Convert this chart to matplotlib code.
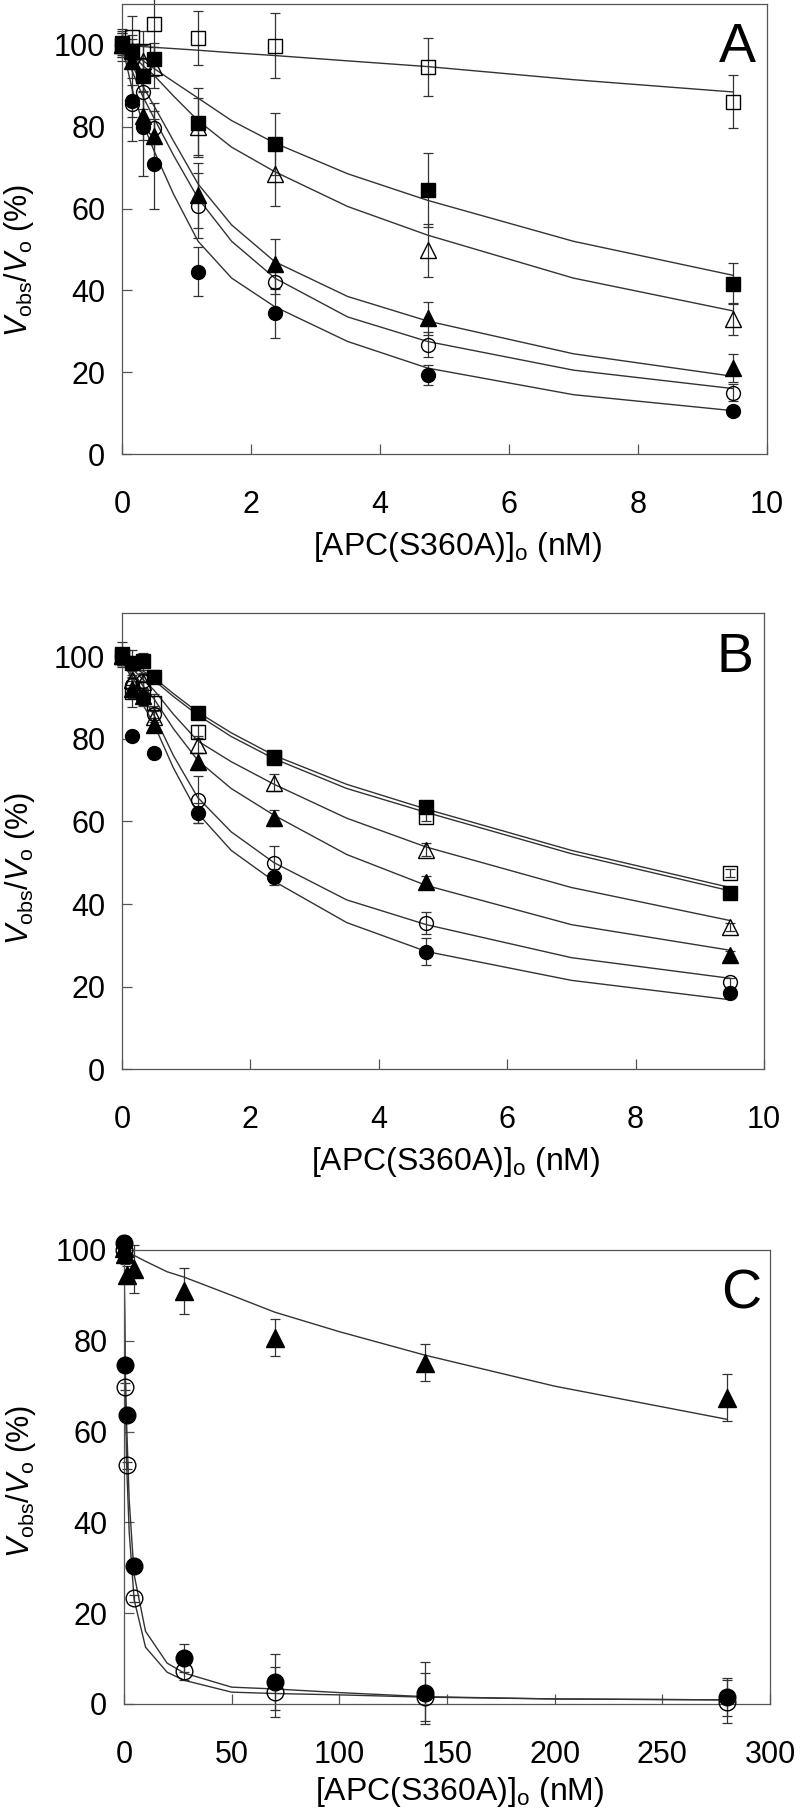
import numpy as np
import matplotlib.pyplot as plt

plt.rcParams['font.family'] = ['Liberation Sans', 'DejaVu Sans']
plt.rcParams['mathtext.fontset'] = 'custom'
plt.rcParams['mathtext.rm'] = 'Liberation Sans'
plt.rcParams['mathtext.it'] = 'Liberation Sans:italic'

# ---- panel A / B concentrations (nM)
x_ab = [0, 0.16, 0.32, 0.5, 1.18, 2.37, 4.74, 9.47]
fit_x_ab = [0, 0.16, 0.32, 0.5, 0.8, 1.18, 1.7, 2.37, 3.5, 4.74, 7, 9.47]

# panel A data
a_sq_open = [100, 102, 98.5, 105, 101.7, 99.8, 94.6, 86.1]
a_sq_open_err = [4, 5, 5, 7, 6.5, 8, 7, 6.5]
a_sq_fill = [100.5, 98.5, 92.5, 96.5, 81, 75.8, 64.6, 41.6]
a_sq_fill_err = [3, 3, 4, 4, 8.5, 7.5, 9, 5]
a_tri_open = [100, 98.5, 96, 94.5, 80, 68.5, 49.8, 33]
a_tri_open_err = [3, 4, 4, 5, 7, 8, 6.5, 4]
a_tri_fill = [100, 96, 82.7, 77.8, 63.2, 46.5, 33.2, 21]
a_tri_fill_err = [2, 4, 6, 8, 8, 6, 4, 3.5]
a_circ_open = [100, 85.5, 88.4, 79.8, 60.7, 42, 26.7, 15]
a_circ_open_err = [3, 9, 4, 4, 8, 3, 3, 2]
a_circ_fill = [100, 86.3, 80, 71, 44.5, 34.4, 19.3, 10.5]
a_circ_fill_err = [2, 4, 12, 11, 6, 6, 2.5, 1]

# panel A fitted curves
a_fit_sq_open = [100, 99.8, 99.6, 99.4, 99.1, 98.7, 98.1, 97.4, 96.1, 94.7, 91.5, 88.5]
a_fit_sq_fill = [100, 98, 96.2, 94.2, 91, 87, 81.5, 76, 68.5, 62, 52, 43.7]
a_fit_tri_open = [100, 97.5, 95, 92.5, 87.5, 81.5, 75, 69, 60.5, 53.5, 43, 35]
a_fit_tri_fill = [100, 95, 90, 85, 76.5, 66, 56, 47, 38.5, 32.5, 24.5, 19]
a_fit_circ_open = [100, 93.5, 87.5, 82, 73, 62.5, 52, 43, 33.5, 27.5, 20.5, 16]
a_fit_circ_fill = [100, 89, 81, 74, 63.5, 52, 43, 36, 27.5, 21, 14.5, 10.6]

# panel B data
b_sq_open = [100, 91.3, 92, 88.8, 81.8, 75.5, 61.2, 47.6]
b_sq_open_err = [2, 3.5, 2, 2, 1.5, 1, 1, 1]
b_sq_fill = [100.5, 98.5, 98.8, 95.1, 86.4, 75.7, 63.6, 42.7]
b_sq_fill_err = [3, 3, 2, 1.5, 1, 1, 1, 1]
b_tri_open = [100, 94.4, 93.7, 85.4, 78.6, 69.4, 53.2, 34.5]
b_tri_open_err = [2, 2, 2, 2, 2, 2, 1.5, 1]
b_tri_fill = [100, 92, 90.3, 83.5, 74.5, 60.9, 45.4, 27.7]
b_tri_fill_err = [2, 2, 2, 1.5, 2, 2, 1.5, 1]
b_circ_open = [100, 93, 94, 86, 65.3, 50, 35.4, 21]
b_circ_open_err = [2, 2, 2, 2, 5.7, 4, 2.6, 1]
b_circ_fill = [100, 80.6, 90, 76.7, 62.1, 46.5, 28.4, 18.4]
b_circ_fill_err = [2, 1, 2, 1, 2.4, 2, 3.3, 1]

# panel B fitted curves
b_fit_sq_open = [100, 97.8, 96, 94.2, 90.3, 85.8, 80.6, 75.2, 68, 62.2, 52.2, 43.2]
b_fit_sq_fill = [100, 98, 96.5, 94.8, 91, 86.5, 81.5, 76, 69, 63, 53, 44]
b_fit_tri_open = [100, 97, 94.5, 91.8, 86, 79.5, 74.5, 69, 60.8, 53.8, 44, 36]
b_fit_tri_fill = [100, 96.3, 93, 89.7, 82.5, 74.8, 68, 61.5, 52, 44.5, 35, 28.8]
b_fit_circ_open = [100, 95, 90.5, 85.7, 76, 65.8, 57.5, 50, 41, 35, 27, 22]
b_fit_circ_fill = [100, 94, 88.5, 83.5, 73, 62, 53, 45.5, 35.5, 28.5, 21.5, 16.8]

# ---- panel C
c_x = [0, 0.6, 1.2, 4.7, 28, 70, 140, 280]
c_tri = [100.5, 99, 94.5, 95.8, 91, 80.7, 75.2, 67.5]
c_tri_err = [2.5, 2, 2, 5.3, 5, 4, 4, 5.2]
c_circ_fill = [101.5, 74.7, 63.7, 30.3, 10.1, 4.8, 2.4, 1.5]
c_circ_fill_err = [1.5, 0.5, 0.5, 0.5, 3, 6.2, 6.8, 4.2]
c_circ_open = [100, 69.9, 52.6, 23.3, 7.2, 2.6, 1.5, 0.5]
c_circ_open_err = [1, 0.8, 0.8, 0.8, 2, 5.5, 5.3, 4.8]

c_fit_x = [0, 0.6, 1.2, 2.4, 4.7, 10, 20, 28, 50, 70, 100, 140, 200, 280]
c_fit_tri = [100, 99.9, 99.7, 99.4, 98.8, 97.5, 95.2, 94, 90, 86.3, 82, 76.8, 70, 62.7]
c_fit_fill = [100, 74, 62, 45, 28.5, 16, 9, 6.8, 3.7, 3.3, 2.5, 1.6, 1.1, 0.9]
c_fit_open = [100, 68, 53, 38, 23, 12.5, 7, 5.2, 2.6, 2.3, 2, 1.5, 1.1, 0.9]

styles = {
    'sq_open': dict(marker='s', mfc='none', mec='black', ms=10.5),
    'sq_fill': dict(marker='s', mfc='black', mec='black', ms=10.5),
    'tri_open': dict(marker='^', mfc='none', mec='black', ms=11),
    'tri_fill': dict(marker='^', mfc='black', mec='black', ms=11),
    'circ_open': dict(marker='o', mfc='none', mec='black', ms=10),
    'circ_fill': dict(marker='o', mfc='black', mec='black', ms=10),
}

line_col = '#333333'
spine_col = '#555555'
fs = 22

fig = plt.figure(figsize=(8, 18.16), dpi=100)
ax_a = fig.add_axes([0.1525, 0.75, 0.806, 0.2478])
ax_b = fig.add_axes([0.1525, 0.4113, 0.8025, 0.2511])
ax_c = fig.add_axes([0.155, 0.0617, 0.8075, 0.25])


def draw_series(ax, x, y, err, key, big=False):
    eb = ax.errorbar(x, y, yerr=err, fmt='none', ecolor=line_col,
                     elinewidth=0.9, capsize=3.5, capthick=0.9)
    for ch in eb.get_children():
        ch.set_clip_on(False)
    st = dict(styles[key])
    if big:
        st['ms'] = st['ms'] + 2
    ax.plot(x, y, linestyle='none', mew=1.0, clip_on=False, zorder=4, **st)


def style_axes(ax, xlim, xticks, ylim, letter, ylab_y, xlab_y):
    ax.set_xlim(*xlim)
    ax.set_ylim(*ylim)
    ax.set_xticks(xticks)
    ax.set_yticks([0, 20, 40, 60, 80, 100])
    for s in ax.spines.values():
        s.set_color(spine_col)
        s.set_linewidth(0.9)
    ax.tick_params(direction='in', length=7, width=0.9, color=spine_col,
                   labelsize=fs)
    ax.tick_params(axis='x', pad=26)
    ax.tick_params(axis='y', pad=12)
    ax.set_xlabel(r'[APC(S360A)]$_{\rm o}$ (nM)', fontsize=fs + 1)
    ax.xaxis.label.set_va('baseline')
    ax.xaxis.set_label_coords(0.52, xlab_y)
    ax.set_ylabel(r'$V_{\rm obs}/V_{\rm o}$ (%)', fontsize=fs)
    ax.yaxis.set_label_coords(-0.133, ylab_y)
    ax.text(0.955, 0.87, letter, transform=ax.transAxes, fontsize=40,
            ha='center', va='baseline')


# panel A
for fit in [a_fit_sq_open, a_fit_sq_fill, a_fit_tri_open, a_fit_tri_fill,
            a_fit_circ_open, a_fit_circ_fill]:
    ax_a.plot(fit_x_ab, fit, color=line_col, lw=1.0)
draw_series(ax_a, x_ab, a_sq_open, a_sq_open_err, 'sq_open')
draw_series(ax_a, x_ab, a_tri_open, a_tri_open_err, 'tri_open')
draw_series(ax_a, x_ab, a_circ_open, a_circ_open_err, 'circ_open')
draw_series(ax_a, x_ab, a_sq_fill, a_sq_fill_err, 'sq_fill')
draw_series(ax_a, x_ab, a_tri_fill, a_tri_fill_err, 'tri_fill')
draw_series(ax_a, x_ab, a_circ_fill, a_circ_fill_err, 'circ_fill')
style_axes(ax_a, (0, 10), [0, 2, 4, 6, 8, 10], (0, 110), 'A', 0.43, -0.224)

# panel B
for fit in [b_fit_sq_open, b_fit_sq_fill, b_fit_tri_open, b_fit_tri_fill,
            b_fit_circ_open, b_fit_circ_fill]:
    ax_b.plot(fit_x_ab, fit, color=line_col, lw=1.0)
draw_series(ax_b, x_ab, b_sq_open, b_sq_open_err, 'sq_open')
draw_series(ax_b, x_ab, b_tri_open, b_tri_open_err, 'tri_open')
draw_series(ax_b, x_ab, b_circ_open, b_circ_open_err, 'circ_open')
draw_series(ax_b, x_ab, b_sq_fill, b_sq_fill_err, 'sq_fill')
draw_series(ax_b, x_ab, b_tri_fill, b_tri_fill_err, 'tri_fill')
draw_series(ax_b, x_ab, b_circ_fill, b_circ_fill_err, 'circ_fill')
style_axes(ax_b, (0, 10), [0, 2, 4, 6, 8, 10], (0, 110.5), 'B', 0.44, -0.2215)

# panel C
for fit in [c_fit_tri, c_fit_fill, c_fit_open]:
    ax_c.plot(c_fit_x, fit, color=line_col, lw=1.0)
draw_series(ax_c, c_x, c_circ_open, c_circ_open_err, 'circ_open', big=True)
draw_series(ax_c, c_x, c_circ_fill, c_circ_fill_err, 'circ_fill', big=True)
draw_series(ax_c, c_x, c_tri, c_tri_err, 'tri_fill', big=True)
style_axes(ax_c, (0, 300), [0, 50, 100, 150, 200, 250, 300], (0, 100), 'C',
           0.49, -0.211)

fig.savefig('out.png', dpi=100)
